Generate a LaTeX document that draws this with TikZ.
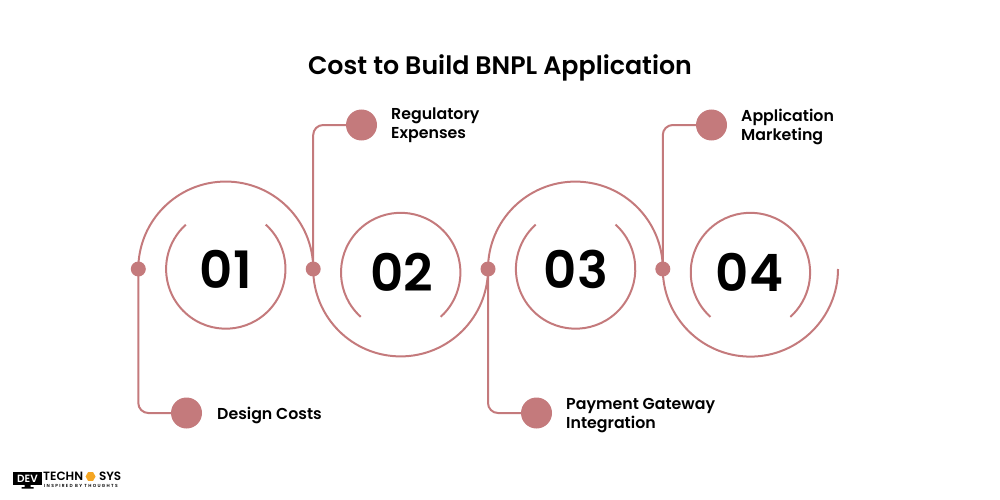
\documentclass[tikz,border=0pt]{standalone}
\usepackage{fontspec}
\setmainfont{Poppins}[BoldFont=Poppins SemiBold]
\usepackage{xcolor}
\usetikzlibrary{positioning}
\usetikzlibrary{shapes.geometric}
\definecolor{rosecol}{HTML}{C47A7C}
\definecolor{logoorange}{HTML}{F5A623}

\begin{document}
\begin{tikzpicture}[x=1pt, y=-1pt,
		dot/.style={circle, fill=rosecol, inner sep=0pt, minimum size=15pt},
		marker/.style={circle, fill=rosecol, inner sep=0pt, minimum size=31pt},
		wire/.style={draw=rosecol, line width=2pt},
		number/.style={font=\bfseries\fontsize{51.5}{51.5}\selectfont, text=black, inner sep=0pt},
		caption/.style={font=\bfseries\fontsize{15.8}{19}\selectfont, align=left, text=black, inner sep=0pt, anchor=west}
	]
	
	\useasboundingbox (0,0) rectangle (1000,500);
	
	\node[font=\bfseries\fontsize{25.3}{30}\selectfont, inner sep=0pt] (title) at (500,68) {Cost to Build BNPL Application};
	
	\coordinate (c1) at (225.8,269);
	\coordinate (c2) at (400.7,272.5);
	\coordinate (c3) at (575.6,269);
	\coordinate (c4) at (750.4,272.5);
	
	\node[number] (n1) at (225.8,269) {01};
	\node[number] (n2) at (401.5,272.5) {02};
	\node[number] (n3) at (576,269) {03};
	\node[number] (n4) at (749.5,272.5) {04};
	
	\draw[wire] (c1) ++(-48:59.7) arc[start angle=-48, end angle=228, radius=59.7];
	\draw[wire] (c2) ++(132:59.7) arc[start angle=132, end angle=408, radius=59.7];
	\draw[wire] (c3) ++(-48:59.7) arc[start angle=-48, end angle=228, radius=59.7];
	\draw[wire] (c4) ++(132:59.7) arc[start angle=132, end angle=408, radius=59.7];
	
	\node[dot] (d1) at (138.3,269) {};
	\node[dot] (d2) at (313.2,269) {};
	\node[dot] (d3) at (488,269) {};
	\node[dot] (d4) at (662.8,269) {};
	
	\node[marker] (m1) at (186.5,413) {};
	\node[marker] (m2) at (361.5,125) {};
	\node[marker] (m3) at (536.5,413) {};
	\node[marker] (m4) at (711.5,125) {};
	
	\draw[wire] (d1.center) arc[start angle=180, delta angle=180, radius=87.45];
	\draw[wire] (d2.center) arc[start angle=180, delta angle=-180, radius=87.4];
	\draw[wire] (d3.center) arc[start angle=180, delta angle=180, radius=87.4];
	\draw[wire] (d4.center) arc[start angle=180, delta angle=-180, radius=87.6];
	
	\draw[wire, rounded corners=10pt] (d1.center) |- (m1);
	\draw[wire, rounded corners=10pt] (d2.center) |- (m2);
	\draw[wire, rounded corners=10pt] (d3.center) |- (m3);
	\draw[wire, rounded corners=10pt] (d4.center) |- (m4);
	
	\node[caption] (t1) at (217,415) {Design Costs};
	\node[caption] (t2) at (391,125.5) {Regulatory\\Expenses};
	\node[caption] (t3) at (566,415.5) {Payment Gateway\\Integration};
	\node[caption] (t4) at (741,126.5) {Application\\Marketing};
	
	\node[fill=black, text=white, font=\bfseries\fontsize{10.5}{10.5}\selectfont, inner sep=0pt, minimum width=29pt, minimum height=13pt] (dev) at (27.5,478.5) {DEV};
	\fill[black] (dev.south) ++(-3,0) rectangle ++(6,2) ++(-9,0) rectangle ++(12,1.5);
	\node[font=\bfseries\fontsize{12}{12}\selectfont, inner sep=0pt, anchor=west] (techn) at (43,476.5) {TECHN};
	\node[regular polygon, regular polygon sides=6, fill=logoorange, inner sep=0pt, minimum size=10pt, right=2pt of techn] (hex) {};
	\node[font=\bfseries\fontsize{12}{12}\selectfont, inner sep=0pt, right=3pt of hex] (sys) {SYS};
	\node[font=\addfontfeature{LetterSpace=30}\bfseries\fontsize{4.4}{4.4}\selectfont, inner sep=0pt, anchor=west] (slogan) at (44,485.5) {INSPIRED BY THOUGHTS};
\end{tikzpicture}
\end{document}
